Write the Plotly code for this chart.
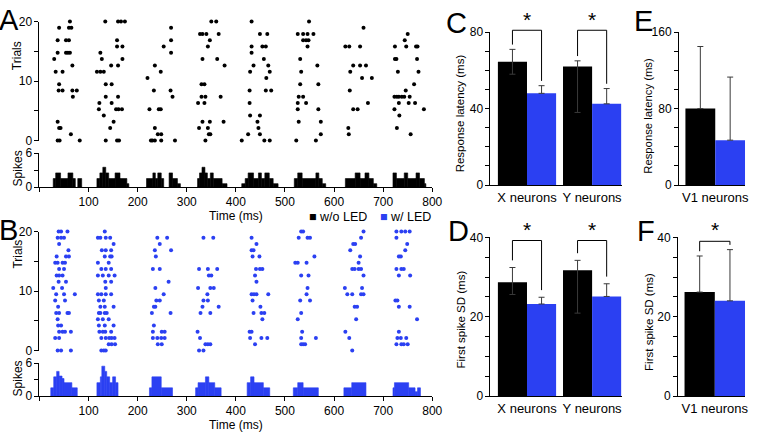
import plotly.graph_objects as go

W, H = 762, 435
BLUE = '#2b40f2'
FONT = 'Arial, "Liberation Sans", sans-serif'

# ---------------- raster data (spike times in ms, one list per trial row) -------------
raster_a_rows = [
    [37, 41, 82, 135, 158, 162, 227, 230, 235, 248, 276, 338, 412, 458, 469, 523, 563],
    [64, 241, 248, 345, 348, 425, 449, 573, 630, 756],
    [40, 43, 144, 235, 325, 343, 446, 629, 728],
    [37, 151, 332, 347, 375, 444, 528, 573],
    [131, 429, 449, 733],
    [121, 156, 161, 168, 224, 243, 247, 526, 568, 639, 648, 723, 783],
    [122, 147, 323, 336, 428, 526, 543, 669, 732, 752, 765],
    [68, 135, 160, 271, 330, 338, 369, 528, 537, 723, 728, 732, 738, 743, 754],
    [39, 47, 67, 76, 233, 267, 428, 461, 472, 632, 746],
    [40, 135, 147, 330, 336, 531, 568, 763],
    [220, 462, 657, 677],
    [33, 47, 117, 124, 131, 247, 429, 469, 533, 633, 730, 772],
    [67, 146, 160, 235, 377, 436, 466, 566, 639, 653, 665],
    [30, 127, 169, 332, 362, 457, 531, 724, 727, 769],
    [37, 54, 58, 62, 124, 268, 432],
    [158, 169, 253, 343, 432, 454, 461, 546, 623, 631, 653, 724, 747, 767, 770],
    [37, 54, 60, 158, 268, 347, 537, 543, 548, 744],
    [327, 332, 340, 365, 449, 464, 526, 537, 546, 558, 750],
    [40, 60, 65, 268, 660],
    [62, 134, 160, 166, 174, 350, 360, 432, 549],
]
raster_b_rows = [
    [37, 44, 64, 126, 131, 135, 325, 334, 637],
    [141, 147, 154, 241, 249, 338, 343, 348, 439, 533, 537, 541, 727, 737, 742, 750],
    [32, 40, 126, 135, 142, 147, 153, 231, 240, 248, 255, 327, 429, 452, 464, 533, 563, 631, 729, 736, 747],
    [40, 47, 52, 64, 122, 129, 134, 146, 231, 249, 255, 322, 428, 432, 535, 623, 732],
    [38, 44, 121, 133, 151, 233],
    [37, 119, 129, 141, 454, 526, 645, 769],
    [34, 40, 57, 60, 121, 124, 133, 137, 229, 267, 328, 348, 436, 452, 458, 533],
    [38, 124, 133, 151, 233, 236, 332, 365, 450, 642, 647, 732, 754],
    [32, 52, 121, 131, 238, 245, 334, 343, 434, 531, 551, 725, 729],
    [34, 50, 72, 119, 126, 135, 146, 253, 342, 432, 437, 442, 466, 544, 627, 637, 655, 660],
    [28, 46, 135, 236, 323, 348, 355, 546, 622, 657],
    [39, 54, 134, 146, 263, 442],
    [35, 40, 47, 119, 129, 141, 153, 345, 350, 439, 533, 548, 660, 732, 755],
    [40, 50, 126, 135, 146, 231, 245, 325, 343, 362, 441, 449, 454, 637, 642, 650, 655, 727, 737, 742],
    [32, 37, 47, 52, 119, 141, 521, 526, 544, 650],
    [35, 54, 60, 133, 144, 147, 237, 434, 448, 560, 653, 732, 736],
    [59, 127, 135, 146, 235, 268, 432, 436, 633, 745],
    [40, 151, 245, 442, 639, 643, 749],
    [37, 44, 50, 119, 124, 135, 144, 240, 260, 334, 354, 432, 528, 546, 551, 655, 727],
    [39, 44, 57, 133, 533, 537, 660, 727, 737, 745, 754],
]
N_TRIALS = 20

# ---------------- PSTH data (bin left edge, right edge, spikes) ----------------
hist_a_left = [28, 33, 43, 58, 68, 78, 117, 123, 129, 135, 141, 154, 164, 178,
               218, 231, 236, 241, 248, 264, 271, 281,
               322, 326, 331, 337, 342, 348, 354, 372,
               412, 419, 425, 436, 446, 452, 459, 468, 476,
               519, 526, 535, 563, 569, 576,
               623, 643, 653, 663, 671, 680,
               720, 727, 743, 750, 767, 774, 784]
hist_a_right = [33, 43, 58, 68, 73, 86, 123, 129, 135, 141, 154, 164, 178, 182,
                231, 236, 241, 248, 253, 271, 281, 287,
                326, 331, 337, 342, 348, 354, 372, 382,
                419, 425, 436, 446, 452, 459, 468, 476, 486,
                526, 535, 563, 569, 576, 583,
                643, 653, 663, 671, 680, 687,
                727, 743, 750, 767, 774, 784, 787]
hist_a_height = [1.5, 2.5, 1.5, 2.5, 1.5, 1.5, 1.5, 2.5, 3.5, 2.5, 1.5, 2.5, 1.5, 0.6,
                 1.5, 2.5, 1.5, 2.5, 1.5, 2.5, 1.5, 0.6,
                 1.5, 2.5, 3.5, 2.5, 1.5, 2.5, 1.5, 0.6,
                 0.6, 1.5, 2.5, 1.5, 2.5, 1.5, 2.5, 1.5, 0.6,
                 1.5, 2.5, 1.5, 2.5, 1.5, 0.6,
                 1.5, 2.5, 1.5, 2.5, 1.5, 0.6,
                 2.5, 1.5, 2.5, 1.5, 2.5, 1.5, 0.6]

hist_b_left = [23, 29, 35, 40, 46, 50, 66,
               117, 124, 127, 133, 137, 143, 149, 155,
               224, 229, 248,
               318, 323, 338, 345, 357,
               423, 430, 437, 456,
               517, 526, 537,
               620, 636,
               720, 723, 752, 765, 770]
hist_b_right = [29, 35, 40, 46, 50, 66, 77,
                124, 127, 133, 137, 143, 149, 155, 160,
                229, 248, 271,
                323, 338, 345, 357, 370,
                430, 437, 456, 469,
                526, 537, 568,
                636, 665,
                723, 752, 765, 770, 776]
hist_b_height = [1.5, 3.5, 4.5, 3.65, 3.2, 2.45, 1.5,
                 2.45, 3.5, 5.45, 4.5, 3.5, 2.45, 3.5, 2.45,
                 1.5, 3.5, 1.5,
                 1.5, 2.45, 3.5, 2.45, 1.5,
                 2.45, 3.5, 2.45, 1.5,
                 1.5, 2.45, 1.5,
                 1.5, 2.45,
                 1.5, 2.45, 1.5, 0.8, 1.5]

time_ticks = [0, 100, 200, 300, 400, 500, 600, 700, 800]
time_labels = ['', '100', '200', '300', '400', '500', '600', '700', '800']

# ---------------- bar chart data ----------------
lgn_cats = ['X neurons', 'Y neurons']
c_wo = [64.5, 62.0]
c_wo_up = [6.5, 3.0]
c_wo_down = [6.5, 24.0]
c_w = [48.0, 42.5]
c_w_up = [4.0, 8.0]

d_wo = [28.7, 31.7]
d_wo_up = [3.7, 2.5]
d_wo_down = [3.1, 10.8]
d_w = [23.2, 25.1]
d_w_up = [1.7, 3.2]

v1_cats = ['V1 neurons']
e_wo = [80.0]
e_wo_up = [65.0]
e_w = [47.0]
e_w_up = [66.0]

f_wo = [26.2]
f_wo_up = [9.1]
f_w = [24.0]
f_w_up = [12.9]

series_names = ['w/o LED', 'w/ LED']


def xd(a, b):
    return [a / W, b / W]


def yd(top, bottom):
    return [1 - bottom / H, 1 - top / H]


fig = go.Figure()

# rasters and PSTHs
for rows, color, xa, ya in [(raster_a_rows, 'black', 'x', 'y'), (raster_b_rows, BLUE, 'x3', 'y3')]:
    xs, ys = [], []
    for k, times in enumerate(rows):
        xs += times
        ys += [k * N_TRIALS / (N_TRIALS - 1)] * len(times)
    fig.add_trace(go.Scatter(x=xs, y=ys, mode='markers', xaxis=xa, yaxis=ya,
                             marker=dict(color=color, size=4), cliponaxis=False,
                             showlegend=False, hoverinfo='skip'))

for left, right, height, color, xa, ya in [
        (hist_a_left, hist_a_right, hist_a_height, 'black', 'x2', 'y2'),
        (hist_b_left, hist_b_right, hist_b_height, BLUE, 'x4', 'y4')]:
    fig.add_trace(go.Bar(x=[(l + r) / 2 for l, r in zip(left, right)],
                         y=height, width=[r - l for l, r in zip(left, right)],
                         marker=dict(color=color, line=dict(width=0.6, color=color)),
                         xaxis=xa, yaxis=ya, showlegend=False, hoverinfo='skip'))

ERR_COLOR = '#3a3a3a'


def add_pair(cats, wo, wo_up, wo_down, w, w_up, xa, ya, bw):
    fig.add_trace(go.Bar(x=cats, y=wo, width=bw, offset=-bw, xaxis=xa, yaxis=ya,
                         marker=dict(color='black', line=dict(width=0)), name=series_names[0],
                         showlegend=False,
                         error_y=dict(type='data', symmetric=False, array=wo_up,
                                      arrayminus=wo_down, color=ERR_COLOR, thickness=1, width=3)))
    fig.add_trace(go.Bar(x=cats, y=w, width=bw, offset=0, xaxis=xa, yaxis=ya,
                         marker=dict(color=BLUE, line=dict(width=0)), name=series_names[1],
                         showlegend=False,
                         error_y=dict(type='data', symmetric=False, array=w_up,
                                      arrayminus=[0] * len(w), color=ERR_COLOR, thickness=1, width=3)))


BW_CD = 0.447
BW_EF = 0.458
RX_CD = [-0.561, 1.455]
RX_EF = [-0.557, 0.458]

add_pair(lgn_cats, c_wo, c_wo_up, c_wo_down, c_w, c_w_up, 'x5', 'y5', BW_CD)
add_pair(lgn_cats, d_wo, d_wo_up, d_wo_down, d_w, d_w_up, 'x6', 'y6', BW_CD)
add_pair(v1_cats, e_wo, e_wo_up, [0], e_w, e_w_up, 'x7', 'y7', BW_EF)
add_pair(v1_cats, f_wo, f_wo_up, [0], f_w, f_w_up, 'x8', 'y8', BW_EF)

shapes, annotations = [], []


def dom(v, r):
    return (v - r[0]) / (r[1] - r[0])


def bracket(ax, ay, rx, ry, i, bw, hl, hr, top, gap, star):
    xl = dom(i - bw / 2, rx)
    xr = dom(i + bw / 2, rx)
    yl = dom(hl + gap, ry)
    yr = dom(hr + gap, ry)
    yt = dom(top, ry)
    xref, yref = ax + ' domain', ay + ' domain'
    ln = dict(color='black', width=1)
    for (x0, y0, x1, y1) in [(xl, yl, xl, yt), (xl, yt, xr, yt), (xr, yt, xr, yr)]:
        shapes.append(dict(type='line', xref=xref, yref=yref, x0=x0, y0=y0, x1=x1, y1=y1, line=ln))
    annotations.append(dict(text='*', xref=xref, yref=yref, x=dom(i, rx), y=dom(star, ry),
                            showarrow=False, xanchor='center', yanchor='middle',
                            font=dict(size=21, color='black')))


for i in range(2):
    bracket('x5', 'y5', RX_CD, [0, 80], i, BW_CD, c_wo[i] + c_wo_up[i], c_w[i] + c_w_up[i],
            81.0, 2.5, 86.5)
    bracket('x6', 'y6', RX_CD, [0, 40], i, BW_CD, d_wo[i] + d_wo_up[i], d_w[i] + d_w_up[i],
            39.2, 1.8, 42.0)
bracket('x8', 'y8', RX_EF, [0, 40], 0, BW_EF, f_wo[0] + f_wo_up[0], f_w[0] + f_w_up[0],
        39.0, 1.2, 42.0)

# panel letters
for letter, px, py in [('A', -2, 13), ('B', -2, 230), ('C', 451, 17), ('D', 453, 231),
                       ('E', 641, 14), ('F', 644, 231)]:
    annotations.append(dict(text=letter, xref='paper', yref='paper', x=px / W, y=1 - py / H,
                            xanchor='left', yanchor='middle', showarrow=False, borderpad=0,
                            font=dict(size=29, color='black')))

# rotated axis titles
for text, px, py, fs in [('Trials', 18, 50, 12), ('Spikes', 18, 167, 12), ('Trials', 18, 255, 12),
                         ('Spikes', 18, 384, 12), ('Response latency (ms)', 467, 110, 11.5),
                         ('First spike SD (ms)', 467, 323, 11.5),
                         ('Response latency (ms)', 657, 112, 11.3),
                         ('First spike SD (ms)', 657, 325, 11.5)]:
    annotations.append(dict(text=text, xref='paper', yref='paper', x=px / W, y=1 - py / H,
                            xanchor='center', yanchor='middle', textangle=-90, showarrow=False,
                            borderpad=0, font=dict(size=fs, color='black')))

# legend
annotations.append(dict(text='<span style="color:black">■</span> ' + series_names[0],
                        xref='paper', yref='paper', x=311 / W, y=1 - 217 / H, xanchor='left',
                        yanchor='middle', showarrow=False, font=dict(size=12.5)))
annotations.append(dict(text='<span style="color:%s">■</span> ' % BLUE + series_names[1],
                        xref='paper', yref='paper', x=383 / W, y=1 - 217 / H, xanchor='left',
                        yanchor='middle', showarrow=False, font=dict(size=12.5)))

axis_base = dict(showline=True, linecolor='black', linewidth=1, ticks='outside', ticklen=4,
                 tickcolor='black', tickwidth=1, showgrid=False, zeroline=False,
                 tickfont=dict(size=12, color='black'), fixedrange=True)


def yax(domain, rng, anchor, vals, labels):
    d = dict(axis_base)
    d.update(domain=domain, range=rng, anchor=anchor, tickvals=vals, ticktext=labels)
    return d


def hidden_x(domain, anchor):
    return dict(domain=domain, range=[0, 800], anchor=anchor, visible=False, fixedrange=True)


def time_x(domain, anchor):
    d = dict(axis_base)
    d.update(domain=domain, range=[0, 800], anchor=anchor, tickvals=time_ticks,
             ticktext=time_labels, title=dict(text='Time (ms)', standoff=1, font=dict(size=12)))
    return d


def cat_x(domain, anchor, rng):
    d = dict(axis_base)
    d.update(domain=domain, range=rng, anchor=anchor, type='category', ticks='',
             tickfont=dict(size=13, color='black'))
    return d


XA = xd(40, 438)
fig.update_layout(
    width=W, height=H, margin=dict(l=0, r=0, t=0, b=0),
    paper_bgcolor='white', plot_bgcolor='white',
    font=dict(family=FONT, size=12, color='black'),
    barmode='overlay', showlegend=False,
    xaxis=hidden_x(XA, 'y'),
    yaxis=yax(yd(15, 138), [0, 20], 'x', [0, 5, 10, 15, 20], ['0', '', '10', '', '20']),
    xaxis2=time_x(XA, 'y2'),
    yaxis2=yax(yd(151, 186), [0, 6], 'x2', [0, 3, 6], ['0', '', '6']),
    xaxis3=hidden_x(XA, 'y3'),
    yaxis3=yax(yd(232, 355), [0, 20], 'x3', [0, 5, 10, 15, 20], ['0', '', '10', '', '20']),
    xaxis4=time_x(XA, 'y4'),
    yaxis4=yax(yd(368, 402), [0, 6], 'x4', [0, 3, 6], ['0', '', '6']),
    xaxis5=cat_x(xd(497, 630), 'y5', RX_CD),
    yaxis5=yax(yd(26, 184), [0, 80], 'x5', list(range(0, 81, 10)),
               ['0', '', '', '', '40', '', '', '', '80']),
    xaxis6=cat_x(xd(497, 630), 'y6', RX_CD),
    yaxis6=yax(yd(238, 402), [0, 40], 'x6', list(range(0, 41, 5)),
               ['0', '', '', '', '20', '', '', '', '40']),
    xaxis7=cat_x(xd(688, 755), 'y7', RX_EF),
    yaxis7=yax(yd(26, 184), [0, 160], 'x7', list(range(0, 161, 20)),
               ['0', '', '', '', '80', '', '', '', '160']),
    xaxis8=cat_x(xd(687, 755), 'y8', RX_EF),
    yaxis8=yax(yd(238, 402), [0, 40], 'x8', list(range(0, 41, 5)),
               ['0', '', '', '', '20', '', '', '', '40']),
    shapes=shapes, annotations=annotations,
)

fig.write_html('out.html', config={'displayModeBar': False, 'staticPlot': True},
               post_script="document.body.style.margin='0';document.body.style.overflow='hidden';")
